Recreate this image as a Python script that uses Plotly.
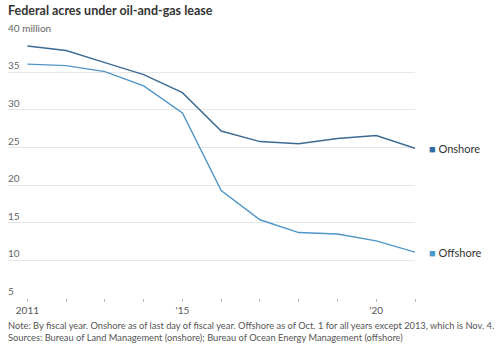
import plotly.graph_objects as go

years = list(range(2011, 2022))
onshore = [38.5, 37.9, 36.3, 34.7, 32.3, 27.2, 25.8, 25.5, 26.2, 26.6, 24.9]
offshore = [36.1, 35.9, 35.1, 33.2, 29.6, 19.3, 15.4, 13.7, 13.5, 12.6, 11.1]

y_ticks = [5, 10, 15, 20, 25, 30, 35, 40]
y_ticktext = ["5", "10", "15", "20", "25", "30", "35", "40 million"]
x_labels = {2011: "2011", 2015: "'15", 2020: "'20"}

on_line = "#3c6a92"
off_line = "#4f95c6"
on_sq = "#2f6ca6"
off_sq = "#4a98cf"

fig = go.Figure()
fig.add_trace(go.Scatter(x=years, y=onshore, mode="lines", name="Onshore",
                         line=dict(color=on_line, width=1.4), hoverinfo="skip"))
fig.add_trace(go.Scatter(x=years, y=offshore, mode="lines", name="Offshore",
                         line=dict(color=off_line, width=1.4), hoverinfo="skip"))

for name, vals, col in [("Onshore", onshore, on_sq), ("Offshore", offshore, off_sq)]:
    fig.add_annotation(x=years[-1], y=vals[-1], xref="x", yref="y",
                       text=f"<span style='color:{col}'>■</span> {name}",
                       showarrow=False, xanchor="left", yanchor="middle",
                       xshift=12, font=dict(family="Lato", size=11, color="#333"))

for v, t in zip(y_ticks, y_ticktext):
    fig.add_annotation(x=0, y=v, xref="paper", yref="y", text=t, showarrow=False,
                       xanchor="left", yanchor="bottom", xshift=-2, yshift=-1,
                       font=dict(family="Lato", size=10, color="#666"))

fig.add_annotation(x=0, y=1, xref="paper", yref="paper", xanchor="left", yanchor="top",
                   text="<b>Federal acres under oil-and-gas lease</b>", showarrow=False,
                   xshift=-2, yshift=33, font=dict(family="Lato", size=12.5, color="#333"))
fig.add_annotation(x=0, y=0, xref="paper", yref="paper", xanchor="left", yanchor="top",
                   text="Note: By fiscal year. Onshore as of last day of fiscal year. Offshore as of Oct. 1 for all years except 2013, which is Nov. 4.<br>Sources: Bureau of Land Management (onshore); Bureau of Ocean Energy Management (offshore)",
                   showarrow=False, align="left", xshift=-2, yshift=-20,
                   font=dict(family="Lato", size=9.3, color="#555"))

fig.update_layout(
    width=500, height=354,
    margin=dict(l=7.6, r=85, t=34.2, b=55.5),
    paper_bgcolor="white", plot_bgcolor="white",
    showlegend=False,
    font=dict(family="Lato", size=10, color="#666"),
    xaxis=dict(range=[2010.5, 2021], tickmode="array", tickvals=years,
               ticktext=[x_labels.get(y, "") for y in years],
               showgrid=False, zeroline=False, showline=False,
               ticks="outside", ticklen=3, tickcolor="#bbb", tickwidth=1,
               tickfont=dict(family="Lato", size=10, color="#555")),
    yaxis=dict(range=[5, 40.1], tickmode="array", tickvals=y_ticks,
               showticklabels=False, showgrid=True, gridcolor="#e6e6e6",
               gridwidth=1, zeroline=False, showline=False),
)

fig.write_html("out.html")
